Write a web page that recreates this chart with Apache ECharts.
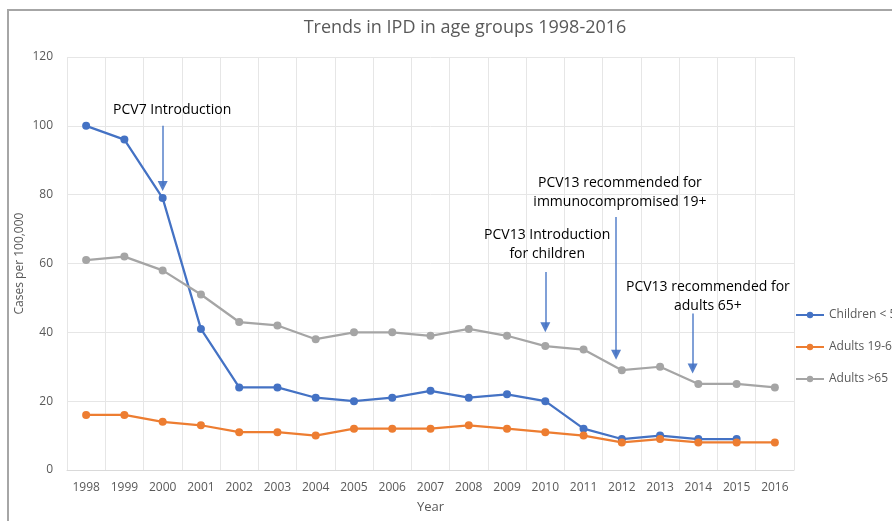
<!DOCTYPE html>
<html><head><meta charset="utf-8">
<script src="https://cdn.jsdelivr.net/npm/echarts@6/dist/echarts.min.js"></script>
<style>html,body{margin:0;padding:0;background:#fff}#c{width:892px;height:521px}</style>
</head><body><div id="c"></div>
<script>
var years = ['1998','1999','2000','2001','2002','2003','2004','2005','2006','2007','2008','2009','2010','2011','2012','2013','2014','2015','2016'];
var children = [100,96,79,41,24,24,21,20,21,23,21,22,20,12,9,10,9,9,null];
var adults1964 = [16,16,14,13,11,11,10,12,12,12,13,12,11,10,8,9,8,8,8];
var adults65 = [61,62,58,51,43,42,38,40,40,39,41,39,36,35,29,30,25,25,24];
var seriesNames = ['Children < 5','Adults 19-64','Adults >65'];
var yTicks = [0,20,40,60,80,100,120];
// annotations: [x (year, fractional), arrowTop, arrowBottom, textX, textY, text]
var annotations = [
  [2000, 100, 82.5, 2000.25, 104.5, 'PCV7 Introduction'],
  [2010, 57.5, 41.5, 2010.05, 65.5, 'PCV13 Introduction\nfor children'],
  [2011.85, 73.5, 33.5, 2011.95, 80.5, 'PCV13 recommended for\nimmunocompromised 19+'],
  [2013.85, 45.5, 29.5, 2014.25, 50.5, 'PCV13 recommended for\nadults 65+']
];
var font = '"Open Sans", sans-serif';
var chart = echarts.init(document.getElementById('c'));
var colors = ['#4472C4','#ED7D31','#A5A5A5'];
function lineSeries(name, data, color) {
  return {
    name: name, type: 'line', data: data, symbol: 'circle', symbolSize: 8,
    lineStyle: {width: 2.25, color: color}, itemStyle: {color: color},
    xAxisIndex: 0, yAxisIndex: 0, z: 3
  };
}
var arrowLines = annotations.map(function(a){
  return [{coord:[a[0], a[1]]},{coord:[a[0], a[2]]}];
});
var textPoints = annotations.map(function(a){
  return {coord:[a[3], a[4]], value: a[5]};
});
chart.setOption({
  animation: false,
  color: colors,
  textStyle: {fontFamily: font},
  title: {
    text: 'Trends in IPD in age groups 1998-2016', left: 460, textAlign: 'center', top: 14,
    textStyle: {fontSize: 18, fontWeight: 'normal', color: '#595959', fontFamily: font}
  },
  legend: {
    orient: 'vertical', left: 790, top: 304, itemGap: 20, itemWidth: 28, itemHeight: 8,
    data: seriesNames,
    textStyle: {fontSize: 12, color: '#595959', fontFamily: font}
  },
  grid: {left: 67, right: 98, top: 57, bottom: 51, containLabel: false},
  xAxis: [{
    type: 'category', data: years, boundaryGap: true,
    name: 'Year', nameLocation: 'middle', nameGap: 31,
    nameTextStyle: {fontSize: 13, color: '#595959'},
    axisLine: {lineStyle: {color: '#D9D9D9'}},
    axisTick: {show: false},
    axisLabel: {color: '#595959', fontSize: 12, margin: 12, interval: 0},
    splitLine: {show: true, interval: 0, lineStyle: {color: '#E6E6E6'}}
  }, {
    type: 'value', min: 1997.5, max: 2016.5, show: false
  }],
  yAxis: [{
    type: 'value', min: 0, max: 120, interval: 20,
    name: 'Cases per 100,000', nameLocation: 'middle', nameGap: 41, nameRotate: 90,
    nameMoveOverlap: false,
    nameTextStyle: {fontSize: 12, color: '#595959'},
    axisLine: {show: false}, axisTick: {show: false},
    axisLabel: {color: '#595959', fontSize: 12, margin: 14},
    splitLine: {lineStyle: {color: '#E6E6E6'}}
  }],
  graphic: [{
    type: 'rect', shape: {x: 8, y: 10, width: 1000, height: 600},
    style: {fill: 'none', stroke: '#A6A6A6', lineWidth: 2}, silent: true, z: -1
  }],
  series: [
    lineSeries(seriesNames[0], children, colors[0]),
    lineSeries(seriesNames[1], adults1964, colors[1]),
    lineSeries(seriesNames[2], adults65, colors[2]),
    {
      type: 'line', data: [], xAxisIndex: 1, yAxisIndex: 0, silent: true,
      markLine: {
        silent: true, symbol: ['none','triangle'], symbolSize: [10, 10],
        lineStyle: {color: '#4472C4', width: 1.5, type: 'solid', opacity: 0.9},
        label: {show: false},
        data: arrowLines
      },
      markPoint: {
        silent: true, symbol: 'circle', symbolSize: 0,
        label: {
          show: true, position: 'inside', formatter: function(p){ return p.data.value; },
          color: '#000', fontSize: 14, lineHeight: 19, align: 'center', fontFamily: font
        },
        data: textPoints
      }
    }
  ]
});
</script></body></html>
